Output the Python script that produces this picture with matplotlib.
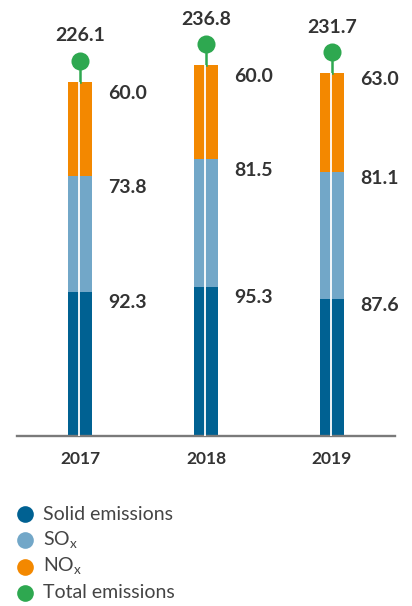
import matplotlib
matplotlib.use("Agg")
import matplotlib.pyplot as plt

plt.rcParams['font.family'] = ['Lato', 'DejaVu Sans']
plt.rcParams['mathtext.fontset'] = 'custom'
plt.rcParams['mathtext.rm'] = 'Lato'

# emissions by year, thousand tonnes
years = ['2017', '2018', '2019']
solid = [92.3, 95.3, 87.6]
sox = [73.8, 81.5, 81.1]
nox = [60.0, 60.0, 63.0]
total = [226.1, 236.8, 231.7]

c_solid = '#006192'
c_sox = '#72a7c8'
c_nox = '#f38800'
c_total = '#2ea850'
c_text = '#333333'

fig = plt.figure(figsize=(4.12, 6.06), dpi=100)
ax = fig.add_axes([17 / 412, 170 / 606, 378 / 412, 436 / 606])

x = list(range(len(years)))
w = 0.19
ax.bar(x, solid, w, color=c_solid)
bot2 = [a for a in solid]
ax.bar(x, sox, w, bottom=bot2, color=c_sox)
bot3 = [a + b for a, b in zip(solid, sox)]
ax.bar(x, nox, w, bottom=bot3, color=c_nox)

# thin white split down the middle of each bar
ax.vlines([i - 0.005 for i in x], 0, total, color='white', lw=1.3, zorder=3)

# total marker on a stem
dot_off = 13.6
for i, t in zip(x, total):
    ax.plot([i, i], [t, t + dot_off], color=c_total, lw=1.8, zorder=2)
    ax.plot(i, t + dot_off, 'o', ms=13, color=c_total, mec='none', zorder=4)
    ax.text(i, t + 29.5, f'{t:.1f}', ha='center', va='center',
            fontsize=14, fontweight='bold', color=c_text)

# segment labels to the right of each bar
for i in x:
    tops = [solid[i], bot3[i], total[i]]
    vals = [solid[i], sox[i], nox[i]]
    off = 4 if i == 2 else 7
    for top, v in zip(tops, vals):
        ax.text(i + 0.223, top - off, f'{v:.1f}', ha='left', va='center',
                fontsize=14, fontweight='bold', color=c_text)

ax.set_xlim(-0.5, 2.5)
ax.set_ylim(0, 278.6)
ax.set_xticks(x)
ax.set_xticklabels(years, fontsize=12.5, fontweight='bold', color=c_text)
ax.tick_params(axis='x', length=0, pad=11)
ax.set_yticks([])
for s in ['top', 'right', 'left']:
    ax.spines[s].set_visible(False)
ax.spines['bottom'].set_color('#7a7a7a')
ax.spines['bottom'].set_linewidth(1.7)

# legend
legend = [('Solid emissions', c_solid), ('SO$_{\\mathrm{x}}$', c_sox),
          ('NO$_{\\mathrm{x}}$', c_nox), ('Total emissions', c_total)]
for k, (lab, col) in enumerate(legend):
    yp = 1 - (514 + 26.3 * k) / 606
    fig.lines.append(plt.Line2D([25 / 412], [yp], marker='o', ms=12, color=col,
                                mec='none', transform=fig.transFigure))
    fig.text(43 / 412, yp, lab, ha='left', va='center', fontsize=14,
             color='#444444')

fig.savefig('out.png', dpi=100)
